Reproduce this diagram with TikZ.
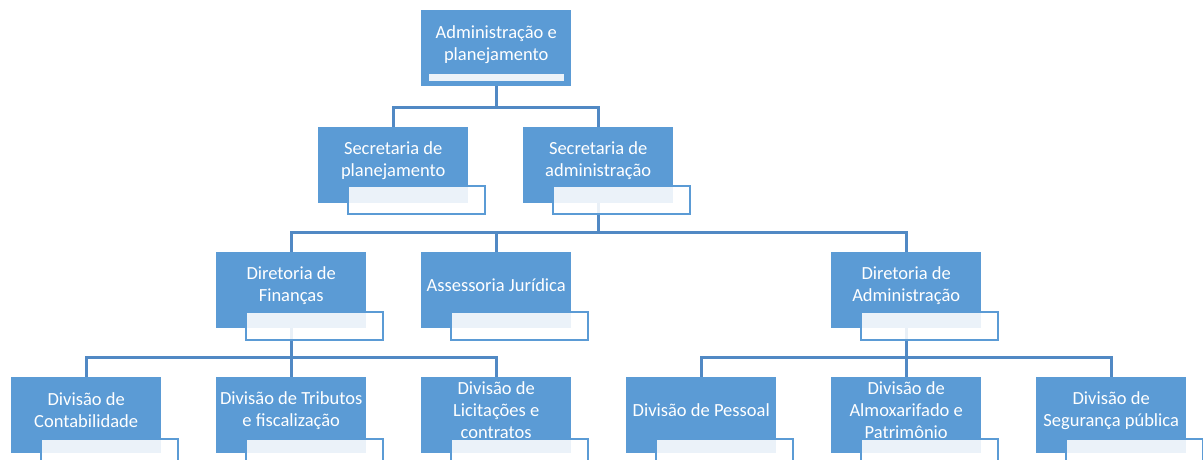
\documentclass[tikz,border=0pt]{standalone}
\usepackage{fontspec}
\setmainfont{Carlito}
\usetikzlibrary{calc}
\definecolor{boxblue}{HTML}{5B9BD5}
\definecolor{lineblue}{HTML}{5189C4}
\tikzset{
  mainbox/.style={rectangle, fill=boxblue, minimum width=150pt, minimum height=76pt, inner sep=0pt, anchor=north west},
  subbox/.style={rectangle, draw=boxblue, line width=2pt, fill=white, fill opacity=0.88, minimum width=137pt, minimum height=28pt, inner sep=0pt, anchor=north west},
  topbar/.style={rectangle, fill=white, fill opacity=0.88, minimum width=135pt, minimum height=7pt, inner sep=0pt, anchor=north west},
  lbl/.style={text=white, font=\fontsize{18.5}{22}\selectfont, align=center, inner sep=0pt},
  conn/.style={draw=lineblue, line width=2.8pt}
}
\begin{document}
\begin{tikzpicture}[x=1pt,y=-1pt]
\useasboundingbox (0,0) rectangle (1203,459);
\clip (0,0) rectangle (1203,459);
% main boxes
\node[mainbox] (A) at (421,10) {};
\node[mainbox] (S1) at (318,127) {};
\node[mainbox] (S2) at (523,127) {};
\node[mainbox] (D1) at (216,252) {};
\node[mainbox] (AJ) at (421,252) {};
\node[mainbox] (D2) at (831,252) {};
\node[mainbox] (V1) at (11,377) {};
\node[mainbox] (V2) at (216,377) {};
\node[mainbox] (V3) at (421,377) {};
\node[mainbox] (V4) at (626,377) {};
\node[mainbox] (V5) at (831,377) {};
\node[mainbox] (V6) at (1036,377) {};
% labels
\node[lbl] (tA) at ($(A.center)+(0,-4)$) {Administração e\\planejamento};
\node[lbl] (tS1) at ($(S1.center)+(0,-5)$) {Secretaria de\\planejamento};
\node[lbl] (tS2) at ($(S2.center)+(0,-5)$) {Secretaria de\\administração};
\node[lbl] (tD1) at ($(D1.center)+(0,-5)$) {Diretoria de\\Finanças};
\node[lbl] (tAJ) at ($(AJ.center)+(0,-5)$) {Assessoria Jurídica};
\node[lbl] (tD2) at ($(D2.center)+(0,-5)$) {Diretoria de\\Administração};
\node[lbl] (tV1) at ($(V1.center)+(0,-5)$) {Divisão de\\Contabilidade};
\node[lbl] (tV2) at ($(V2.center)+(0,-5)$) {Divisão de Tributos\\e fiscalização};
\node[lbl] (tV3) at ($(V3.center)+(0,-5)$) {Divisão de\\Licitações e\\contratos};
\node[lbl] (tV4) at ($(V4.center)+(0,-5)$) {Divisão de Pessoal};
\node[lbl] (tV5) at ($(V5.center)+(0,-5)$) {Divisão de\\Almoxarifado e\\Patrimônio};
\node[lbl] (tV6) at ($(V6.center)+(0,-5)$) {Divisão de\\Segurança pública};
% bus coordinates
\coordinate (b0) at ($(A.south)+(0,21)$);
\coordinate (b1) at ($(S2.south)+(0,29)$);
\coordinate (b2) at ($(D1.south)+(0,29)$);
\coordinate (b3) at ($(D2.south)+(0,29)$);
% connectors
\draw[conn] (A.south) -- (b0) -| (S1.north);
\draw[conn] (b0) -| (S2.north);
\draw[conn] (S2.south) -- (b1) -| (D1.north);
\draw[conn] (b1) -| (D2.north);
\draw[conn] (b1 -| AJ.north) -- (AJ.north);
\draw[conn] (D1.south) -- (b2) -| (V1.north);
\draw[conn] (b2) -| (V3.north);
\draw[conn] (b2) -- (V2.north);
\draw[conn] (D2.south) -- (b3) -| (V4.north);
\draw[conn] (b3) -| (V6.north);
\draw[conn] (b3) -- (V5.north);
% sub boxes
\node[topbar] (pA) at ($(A.north west)+(8,64)$) {};
\node[subbox] (pS1) at ($(S1.north west)+(29,58)$) {};
\node[subbox] (pS2) at ($(S2.north west)+(29,58)$) {};
\node[subbox] (pD1) at ($(D1.north west)+(29,59)$) {};
\node[subbox] (pAJ) at ($(AJ.north west)+(29,59)$) {};
\node[subbox] (pD2) at ($(D2.north west)+(29,59)$) {};
\node[subbox] (pV1) at ($(V1.north west)+(29,61)$) {};
\node[subbox] (pV2) at ($(V2.north west)+(29,61)$) {};
\node[subbox] (pV3) at ($(V3.north west)+(29,61)$) {};
\node[subbox] (pV4) at ($(V4.north west)+(29,61)$) {};
\node[subbox] (pV5) at ($(V5.north west)+(29,61)$) {};
\node[subbox] (pV6) at ($(V6.north west)+(29,61)$) {};
\end{tikzpicture}
\end{document}
